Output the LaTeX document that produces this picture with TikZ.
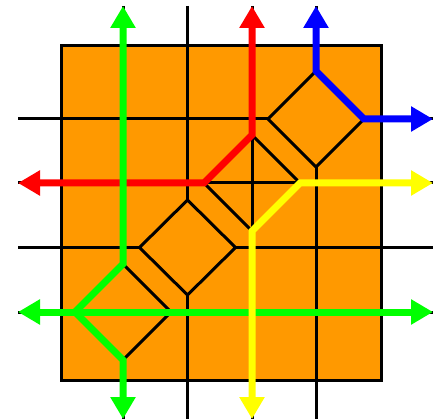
\documentclass[tikz,border=0pt]{standalone}
\usetikzlibrary{arrows.meta}
\definecolor{orangefill}{RGB}{255,153,0}
\definecolor{pgreen}{RGB}{0,255,0}
\definecolor{pred}{RGB}{255,0,0}
\definecolor{pblue}{RGB}{0,0,255}
\definecolor{pyellow}{RGB}{255,255,0}
\begin{document}
\begin{tikzpicture}[x=1pt,y=-1pt,
  gridline/.style={black,line width=3pt},
  dia/.style={draw=black,line width=3pt,line join=miter},
  flow/.style={line width=7pt,line join=miter,{Triangle[length=22pt,width=24pt]}-{Triangle[length=22pt,width=24pt]}},
]
\useasboundingbox (0,0) rectangle (433,419);
% board
\fill[orangefill] (61,46) rectangle (381,380);
\draw[gridline] (61,46) rectangle (381,380);
% grid
\foreach \x in {123,187.5,252,316} \draw[gridline] (\x,6) -- (\x,419);
\foreach \y in {119,183,247.5,312} \draw[gridline] (18,\y) -- (433,\y);
% diamonds
\coordinate (a1) at (316,71);  \coordinate (a2) at (364,119); \coordinate (a3) at (316,167); \coordinate (a4) at (268,119);
\coordinate (c1) at (252,135); \coordinate (c2) at (300,183); \coordinate (c3) at (252,231); \coordinate (c4) at (204,183);
\coordinate (b1) at (187.5,200); \coordinate (b2) at (235.5,247.5); \coordinate (b3) at (187.5,295); \coordinate (b4) at (139.5,247.5);
\coordinate (d1) at (123,264); \coordinate (d2) at (171,312); \coordinate (d3) at (123,360); \coordinate (d4) at (75,312);
\filldraw[dia,fill=orangefill] (a1) -- (a2) -- (a3) -- (a4) -- cycle;
\draw[dia] (c1) -- (c2) -- (c3) -- (c4) -- cycle;
\filldraw[dia,fill=orangefill] (b1) -- (b2) -- (b3) -- (b4) -- cycle;
\filldraw[dia,fill=orangefill] (d1) -- (d2) -- (d3) -- (d4) -- cycle;
% end points
\coordinate (redL) at (18,183);   \coordinate (redT) at (252,6);
\coordinate (bluT) at (316,6);    \coordinate (bluR) at (433,119);
\coordinate (yelR) at (433,183);  \coordinate (yelB) at (252,419);
\coordinate (grnT) at (123,6);    \coordinate (grnB) at (123,419);
\coordinate (grnL) at (18,312);   \coordinate (grnR) at (433,312);
% flows
\draw[flow,pred] (redL) -- (c4) -- (c1) -- (redT);
\draw[flow,pblue] (bluT) -- (a1) -- (a2) -- (bluR);
\draw[flow,pgreen] (grnT) -- (d1) -- (d4) -- (d3) -- (grnB);
\draw[flow,pgreen] (grnL) -- (grnR);
\draw[flow,pyellow] (yelR) -- (c2) -- (c3) -- (yelB);
\end{tikzpicture}
\end{document}
